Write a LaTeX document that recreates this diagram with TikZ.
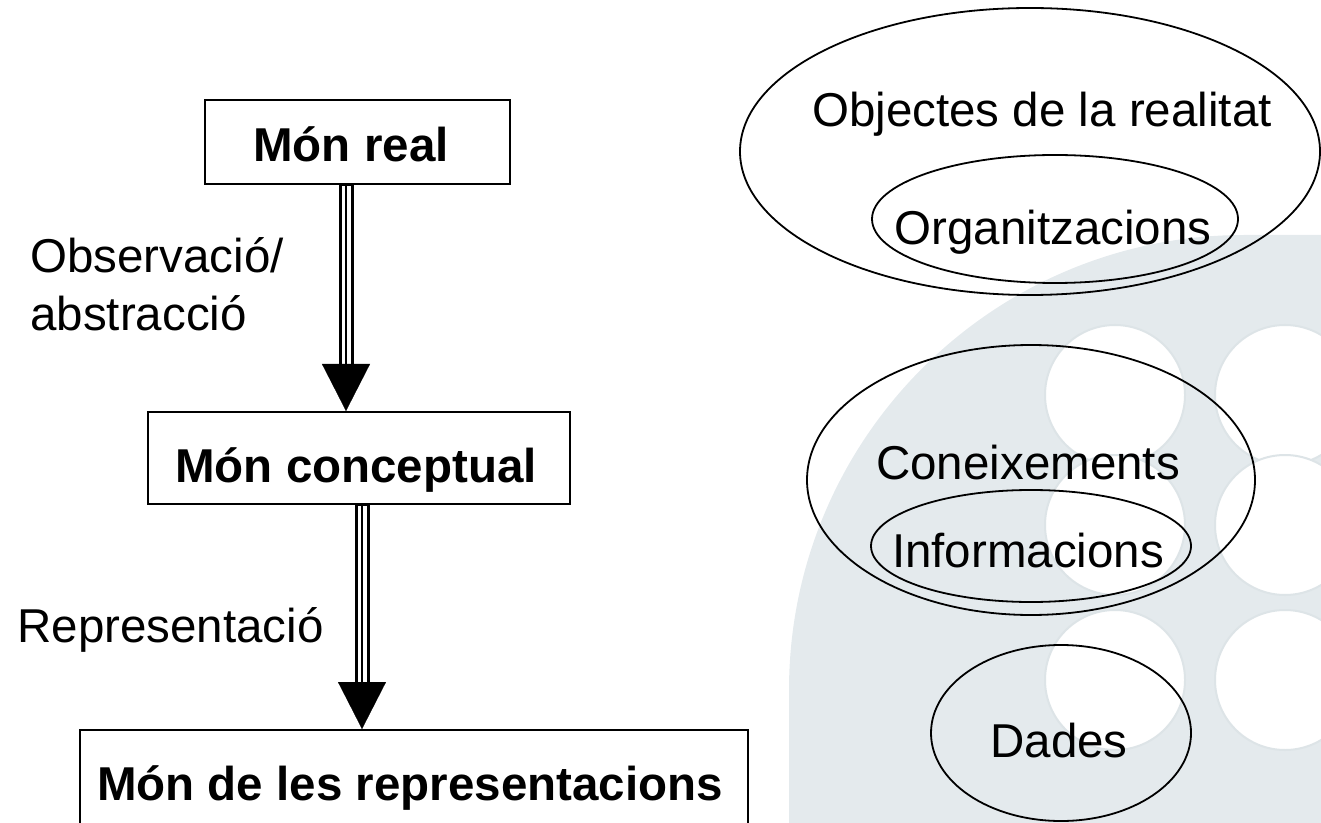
\documentclass[tikz,border=0pt]{standalone}
\usepackage{fontspec}
\setmainfont{Liberation Sans}
\usetikzlibrary{arrows.meta,shapes.geometric}
\definecolor{wm}{HTML}{E4EAED}
\definecolor{wmline}{HTML}{DDE4E7}
\begin{document}
\begin{tikzpicture}[x=0.5pt,y=-0.5pt,
  every node/.style={font=\fontsize{23.75}{28.5}\selectfont, inner sep=0pt},
  box/.style={draw, line width=1pt, rectangle},
  oval/.style={draw, line width=0.9pt, ellipse},
  lbl/.style={anchor=base},
  lblw/.style={anchor=base west},
  shaftout/.style={line width=7.5pt, shorten >=23pt},
  shaftgap/.style={white, line width=4.5pt, shorten >=23pt, shorten <=0.6pt},
  shaftin/.style={line width=1.25pt, shorten >=23pt},
  head/.style={line width=0.1pt, -{Triangle[length=23.5pt,width=24pt]}}
]
\useasboundingbox (0,0) rectangle (1321,823);
% watermark
\fill[wm] (789,830) -- (789,690) arc[start angle=180, end angle=270, radius=455] -- (1330,235) -- (1330,830) -- cycle;
\foreach \cx in {1115,1285} {
  \foreach \cy in {395,525,680} {
    \filldraw[fill=white, draw=wmline, line width=1pt] (\cx,\cy) circle[radius=70];
  }
}
% boxes
\node[box, minimum width=152.5pt, minimum height=42pt] (real) at (357.5,142) {};
\node[box, minimum width=211pt, minimum height=46pt] (conc) at (359,458) {};
\node[box, minimum width=334pt, minimum height=48pt] (repr) at (414,778) {};
\node[lbl] (treal) at (351,162) {\bfseries Món real};
\node[lbl] (tconc) at (356,482) {\bfseries Món conceptual};
\node[lbl] (trepr) at (410,800) {\bfseries Món de les representacions};
% arrows
\coordinate (a1) at (346,0);
\coordinate (a2) at (362,0);
\foreach \s in {shaftout,shaftgap,shaftin,head} {
  \draw[\s] (real.south -| a1) -- (conc.north -| a1);
  \draw[\s] (conc.south -| a2) -- (repr.north -| a2);
}
\node[lblw] (obs1) at (30,273) {Observació/};
\node[lblw] (obs2) at (30,330) {abstracció};
\node[lblw] (rep) at (17,642) {Representació};
% ellipses
\node[oval, minimum width=290pt, minimum height=143.5pt] (e1) at (1030,151.5) {};
\node[oval, minimum width=183pt, minimum height=64pt] (e1in) at (1055,219) {};
\node[lbl] (tobj) at (1042,127) {Objectes de la realitat};
\node[lbl] (torg) at (1053,245) {Organitzacions};
\node[oval, minimum width=224pt, minimum height=135pt] (e2) at (1031,480) {};
\node[oval, minimum width=160pt, minimum height=56pt] (e2in) at (1031,546) {};
\node[lbl] (tcon) at (1028,479) {Coneixements};
\node[lbl] (tinf) at (1028,567) {Informacions};
\node[oval, minimum width=130pt, minimum height=88pt] (e3) at (1061,733) {};
\node[lbl] (tdad) at (1059,757) {Dades};
\end{tikzpicture}
\end{document}
